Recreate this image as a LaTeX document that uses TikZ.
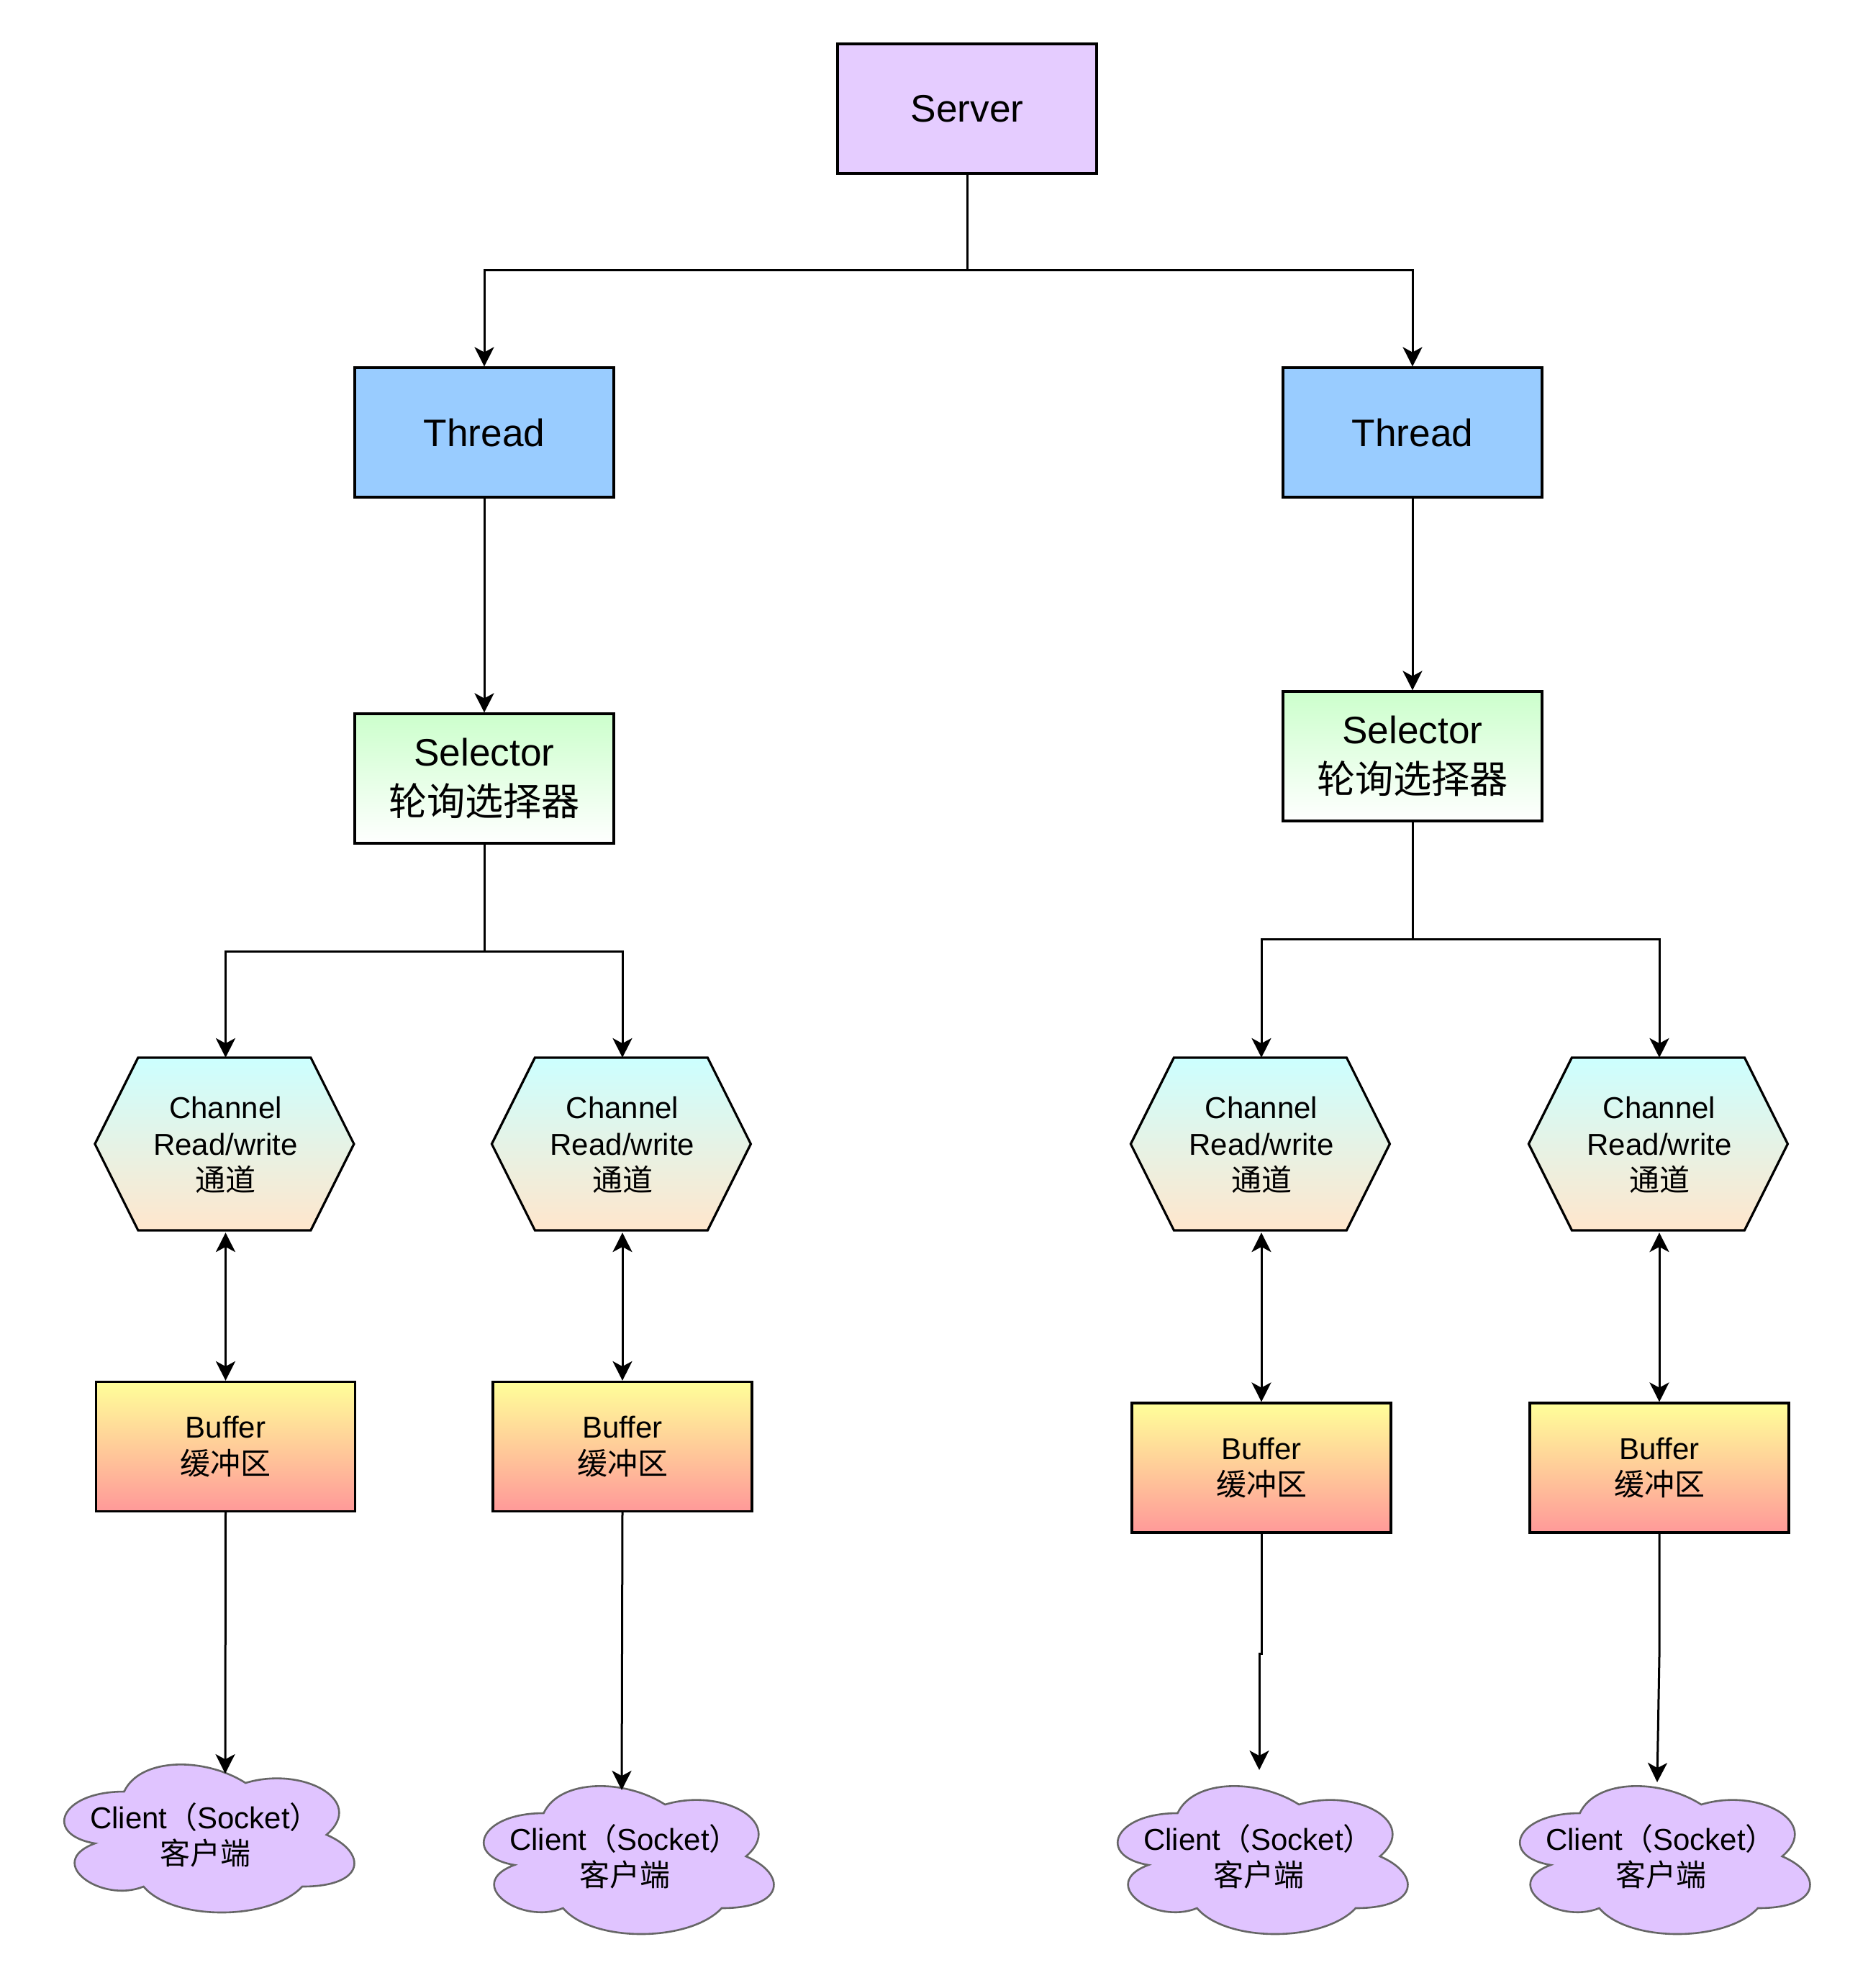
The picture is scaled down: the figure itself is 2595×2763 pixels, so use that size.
\documentclass[tikz,border=0pt]{standalone}
\usepackage{fontspec}
\setmainfont{Liberation Sans}
\newfontfamily\cjk{Noto Sans CJK SC}
\usetikzlibrary{arrows.meta,calc,backgrounds}

\definecolor{srvfill}{HTML}{E5CCFF}
\definecolor{thfill}{HTML}{99CCFF}
\definecolor{selTop}{HTML}{CCFFCC}
\definecolor{hexTop}{HTML}{CCFFFF}
\definecolor{hexBot}{HTML}{FFE6CC}
\definecolor{bufTop}{HTML}{FFFF99}
\definecolor{bufBot}{HTML}{FF9999}
\definecolor{cloudFill}{HTML}{E0C4FF}
\definecolor{cloudLine}{HTML}{666666}

\tikzset{
  bigtext/.style={font=\fontsize{13.3}{17.2}\selectfont},
  smalltext/.style={font=\fontsize{10.5}{12.6}\selectfont},
  box/.style={draw=black, line width=0.8pt, minimum width=90pt, minimum height=45pt,
              inner sep=0pt, align=center},
  hexnode/.style={minimum width=90pt, minimum height=60pt, inner sep=0pt,
                  outer sep=0.4pt, align=center, smalltext},
  cloudnode/.style={minimum width=112.5pt, minimum height=60pt, inner sep=0pt,
                    outer sep=0pt, align=center, smalltext},
  tipA/.tip={Stealth[length=6.75pt,width=6.75pt,inset=1.8pt]},
  conn/.style={line width=0.75pt, -tipA},
  dconn/.style={line width=0.75pt, tipA-tipA},
}

\newcommand\hexshape[1]{%
  \begin{scope}[on background layer]
  \begin{scope}[shift={(#1.north west)}, x=90pt, y=-60pt]
    \draw[line width=0.8pt, top color=hexTop, bottom color=hexBot]
      (0,0.5) -- (0.16667,0) -- (0.83333,0) -- (1,0.5) -- (0.83333,1) -- (0.16667,1) -- cycle;
  \end{scope}
  \end{scope}}

\newcommand\cloudshape[1]{%
  \begin{scope}[on background layer]
  \begin{scope}[shift={(#1.north west)}, x=112.5pt, y=-60pt]
    \draw[draw=cloudLine, fill=cloudFill, line width=0.65pt]
      (0.25,0.25) .. controls (0.05,0.25) and (0,0.5) .. (0.16,0.55)
      .. controls (0,0.66) and (0.18,0.9) .. (0.31,0.8)
      .. controls (0.4,1) and (0.7,1) .. (0.8,0.8)
      .. controls (1,0.8) and (1,0.6) .. (0.875,0.5)
      .. controls (1,0.3) and (0.8,0.1) .. (0.625,0.2)
      .. controls (0.5,0.05) and (0.3,0.05) .. (0.25,0.25) -- cycle;
  \end{scope}
  \end{scope}}

\begin{document}
\begin{tikzpicture}[x=0.25pt, y=-0.25pt]
\useasboundingbox (0,0) rectangle (2595,2763);
\begin{scope}[on background layer]
  \fill[white] (0,0) rectangle (2595,2763);
\end{scope}

% top level
\node[box, fill=srvfill, bigtext] (srv) at (1344,151) {Server};
\node[box, fill=thfill, bigtext] (thL) at (673,601) {Thread};
\node[box, fill=thfill, bigtext] (thR) at (1963,601) {Thread};
\node[box, top color=selTop, bottom color=white, bigtext] (selL) at (673,1082) {Selector\\{\cjk 轮询选择器}};
\node[box, top color=selTop, bottom color=white, bigtext] (selR) at (1963,1051) {Selector\\{\cjk 轮询选择器}};

% channels
\node[hexnode] (h1) at (313.5,1591.5) {Channel\\Read/write\\{\cjk 通道}};
\node[hexnode] (h2) at (865,1591.5) {Channel\\Read/write\\{\cjk 通道}};
\node[hexnode] (h3) at (1753,1591.5) {Channel\\Read/write\\{\cjk 通道}};
\node[hexnode] (h4) at (2306,1591.5) {Channel\\Read/write\\{\cjk 通道}};
\hexshape{h1}\hexshape{h2}\hexshape{h3}\hexshape{h4}

% buffers
\node[box, top color=bufTop, bottom color=bufBot, smalltext] (b1) at (313.5,2010.5) {Buffer\\{\cjk 缓冲区}};
\node[box, top color=bufTop, bottom color=bufBot, smalltext] (b2) at (865,2010.5) {Buffer\\{\cjk 缓冲区}};
\node[box, top color=bufTop, bottom color=bufBot, smalltext] (b3) at (1753,2040) {Buffer\\{\cjk 缓冲区}};
\node[box, top color=bufTop, bottom color=bufBot, smalltext] (b4) at (2306,2040) {Buffer\\{\cjk 缓冲区}};

% clients
\node[cloudnode] (c1) at (285,2550) {Client{\cjk （}Socket{\cjk ）}\\{\cjk 客户端}};
\node[cloudnode] (c2) at (868,2580) {Client{\cjk （}Socket{\cjk ）}\\{\cjk 客户端}};
\node[cloudnode] (c3) at (1749,2580) {Client{\cjk （}Socket{\cjk ）}\\{\cjk 客户端}};
\node[cloudnode] (c4) at (2308,2580) {Client{\cjk （}Socket{\cjk ）}\\{\cjk 客户端}};
\cloudshape{c1}\cloudshape{c2}\cloudshape{c3}\cloudshape{c4}

% branch points and arrow ends
\coordinate (brS) at (1344,375);
\coordinate (brL) at (673,1322);
\coordinate (brR) at (1963,1305);
\coordinate (e1) at (313,2465);
\coordinate (e2) at (864,2488);
\coordinate (e3) at (1750,2460);
\coordinate (e4) at (2303,2477);

% connectors
\draw[conn] (srv.south) -- (brS) -| (thL.north);
\draw[conn] (brS) -| (thR.north);
\draw[conn] (thL.south) -- (selL.north);
\draw[conn] (thR.south) -- (selR.north);
\draw[conn] (selL.south) -- (brL) -| (h1.north);
\draw[conn] (brL) -| (h2.north);
\draw[conn] (selR.south) -- (brR) -| (h3.north);
\draw[conn] (brR) -| (h4.north);
\draw[dconn] (h1.south) -- (b1.north);
\draw[dconn] (h2.south) -- (b2.north);
\draw[dconn] (h3.south) -- (b3.north);
\draw[dconn] (h4.south) -- (b4.north);
\draw[conn] (b1.south) -- (e1);
\draw[conn] (b2.south) -- (e2);
\draw[conn] (b3.south) -- ++(0,167) -| (e3);
\draw[conn] (b4.south) -- ++(0,170) -- (e4);
\end{tikzpicture}
\end{document}
